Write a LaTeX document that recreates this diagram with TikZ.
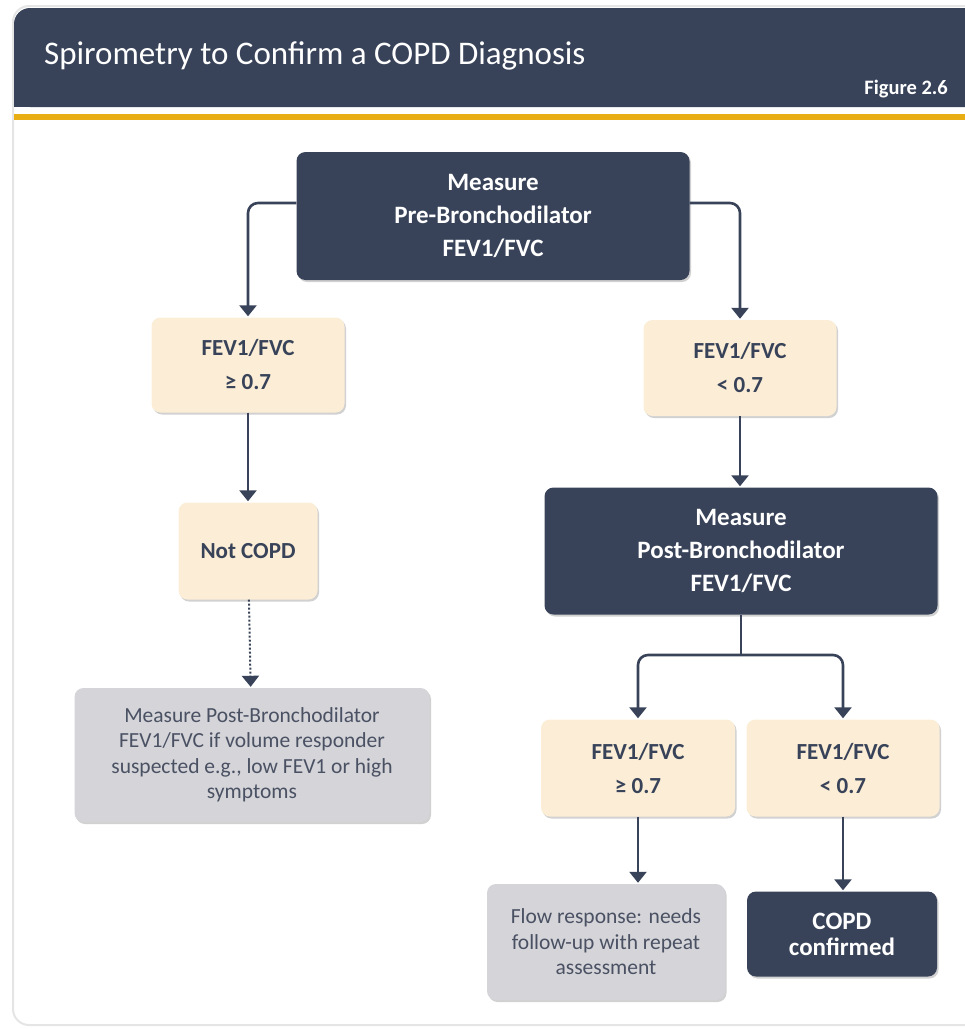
\documentclass[tikz,border=0pt]{standalone}
\usepackage{fontspec}
\setmainfont{Carlito}
\usetikzlibrary{arrows.meta,shadows}
\definecolor{navy}{HTML}{384359}
\definecolor{gold}{HTML}{E9AE14}
\definecolor{beige}{HTML}{FBEDD6}
\definecolor{lgray}{HTML}{D4D4D9}
\definecolor{gtext}{HTML}{4A5163}
\tikzset{
  boxshadow/.style={drop shadow={shadow xshift=1.5pt,shadow yshift=-2pt,opacity=0.18,fill=black}},
  darkbox/.style={rounded corners=9pt,fill=navy,text=white,align=center,inner sep=0pt,
    font=\bfseries\fontsize{25}{33}\selectfont,boxshadow},
  beigebox/.style={rounded corners=9pt,fill=beige,text=navy,align=center,inner sep=0pt,
    font=\bfseries\fontsize{23}{34}\selectfont,boxshadow},
  graybox/.style={rounded corners=9pt,fill=lgray,text=gtext,align=center,inner sep=0pt,
    font=\fontsize{21.5}{25.5}\selectfont,boxshadow},
  link/.style={draw=navy,line width=2.6pt,rounded corners=10pt},
  arrow/.style={link,-{Triangle[width=17pt,length=11pt]},shorten >=1pt}
}
\begin{document}
\begin{tikzpicture}[x=1pt,y=-1pt]
  \useasboundingbox (0,0) rectangle (965,1029);
  \clip (0,0) rectangle (965,1029);
  % frame and header
  \draw[black!10,line width=2pt,rounded corners=16pt] (13,6) rectangle (1000,1025);
  \fill[navy,rounded corners=16pt] (14,8) rectangle (1000,107);
  \fill[navy] (14,60) rectangle (60,107);
  \fill[gold] (14,114) rectangle (965,120);
  \node[anchor=base west,inner sep=0pt,text=white,font=\fontsize{33}{38}\selectfont] (title) at (44,64)
    {Spirometry to Confirm a COPD Diagnosis};
  \node[anchor=base east,inner sep=0pt,text=white,font=\bfseries\fontsize{20.5}{24}\selectfont] (fig) at (948,94)
    {Figure 2.6};

  % boxes
  \node[darkbox,minimum width=393pt,minimum height=128pt] (pre) at (493,216)
    {Measure\\Pre-Bronchodilator\\FEV1/FVC};
  \node[beigebox,minimum width=193pt,minimum height=95pt] (hiA) at (248,365)
    {FEV1/FVC\\≥ 0.7};
  \node[beigebox,minimum width=193pt,minimum height=96pt] (loA) at (740,368)
    {FEV1/FVC\\< 0.7};
  \node[beigebox,minimum width=139pt,minimum height=97pt] (notcopd) at (248,551)
    {Not COPD};
  \node[graybox,minimum width=355pt,minimum height=134pt] (volresp) at (252,755)
    {Measure Post-Bronchodilator\\FEV1/FVC if volume responder\\suspected e.g., low FEV1 or high\\symptoms};
  \node[darkbox,minimum width=393pt,minimum height=127pt] (post) at (741,551)
    {Measure\\Post-Bronchodilator\\FEV1/FVC};
  \node[beigebox,minimum width=194pt,minimum height=97pt] (hiB) at (638,768)
    {FEV1/FVC\\≥ 0.7};
  \node[beigebox,minimum width=193pt,minimum height=97pt] (loB) at (843,768)
    {FEV1/FVC\\< 0.7};
  \node[graybox,minimum width=238pt,minimum height=116pt] (flow) at (606,942)
    {Flow response: needs\\follow-up with repeat\\assessment};
  \node[darkbox,minimum width=190pt,minimum height=85pt,font=\bfseries\fontsize{25}{26}\selectfont] (copd) at (842,934)
    {COPD\\confirmed};

  % connectors
  \draw[arrow] ([yshift=13pt]pre.west) -| (hiA.north);
  \draw[arrow] ([yshift=13pt]pre.east) -| (loA.north);
  \draw[arrow] (hiA) -- (notcopd);
  \draw[arrow,dash pattern=on 2pt off 2pt,line width=2pt] (notcopd) -- (volresp);
  \draw[arrow] (loA) -- (loA |- post.north);
  \coordinate (split) at (post.south |- 0,655);
  \draw[link] (post.south) -- (split);
  \draw[arrow] (split) -| (hiB.north);
  \draw[arrow] (split) -| (loB.north);
  \draw[arrow] (hiB) -- (hiB.south |- flow.north);
  \draw[arrow] (loB) -- (loB.south |- copd.north);
\end{tikzpicture}
\end{document}
